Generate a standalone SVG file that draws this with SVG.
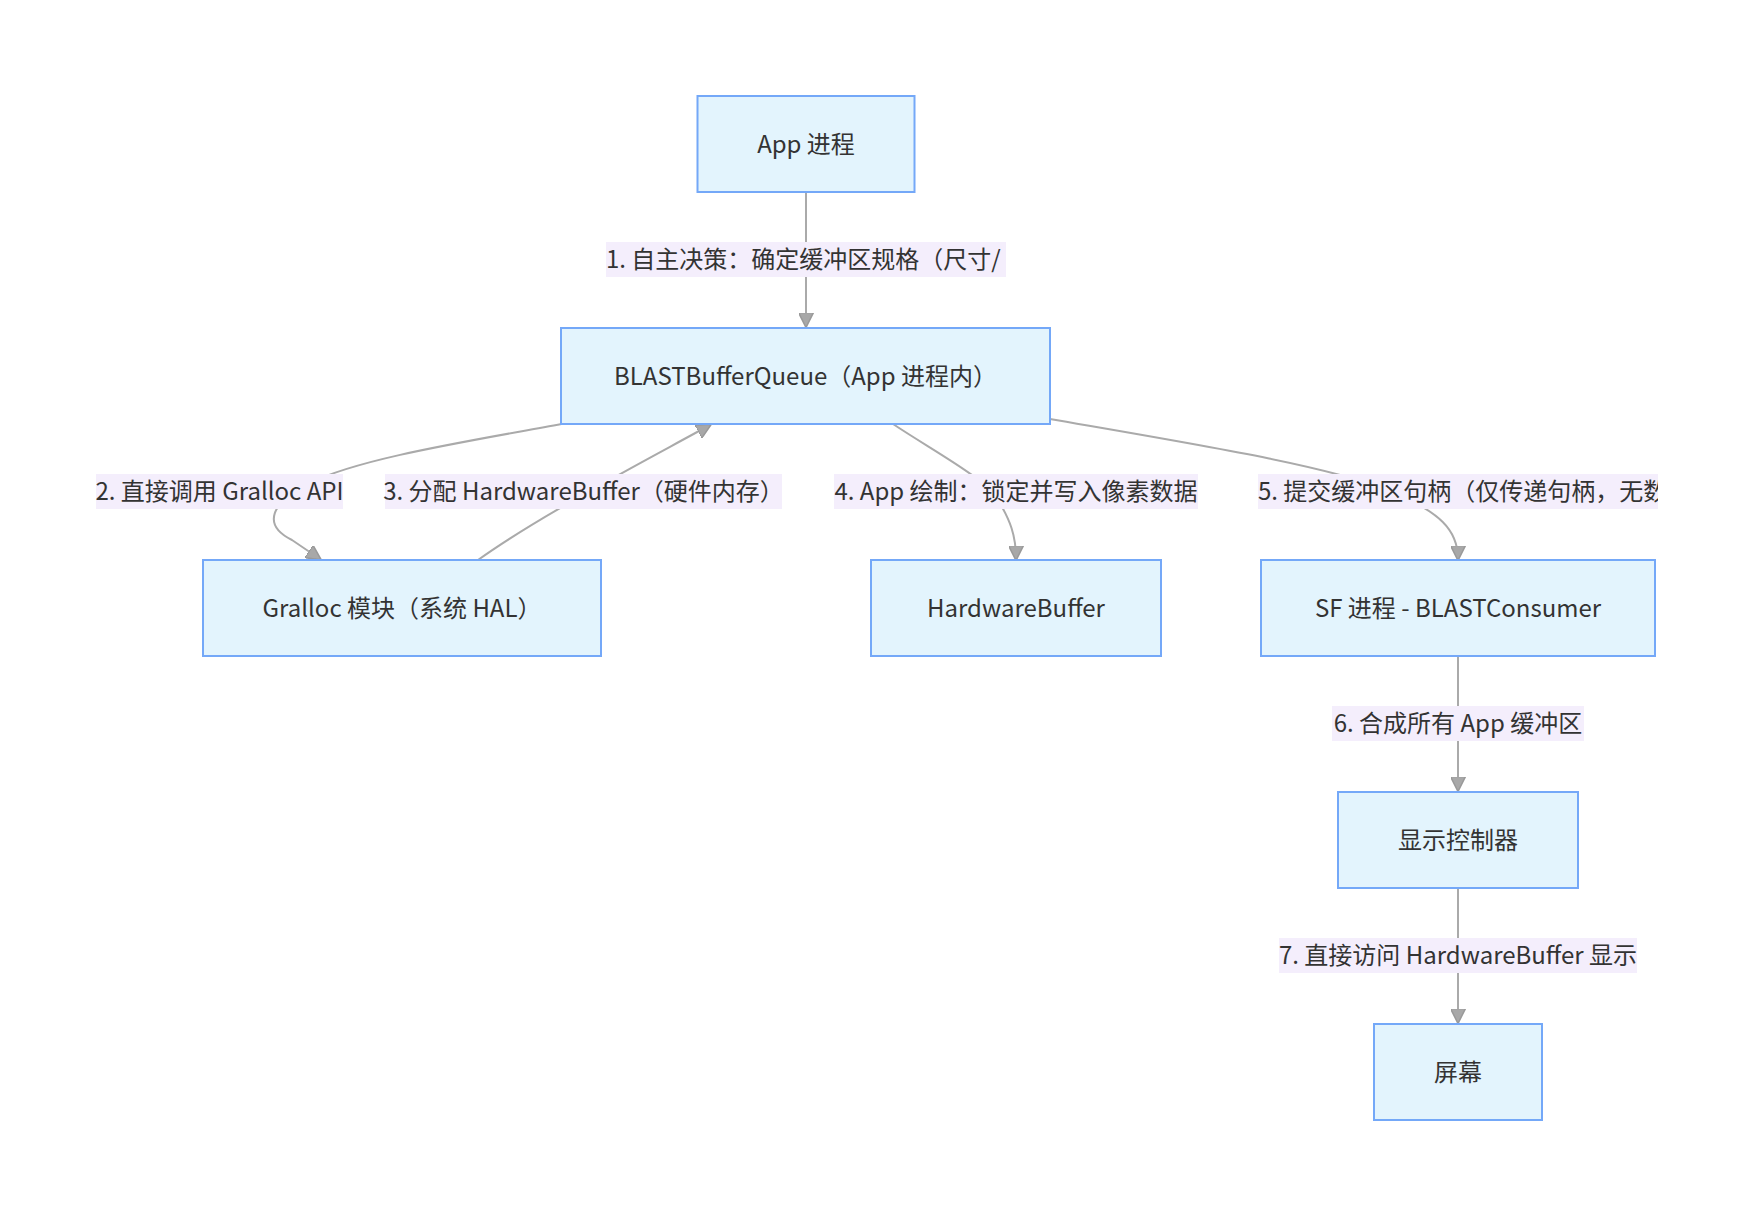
<svg xmlns="http://www.w3.org/2000/svg" width="1754" height="1215" viewBox="0 0 1754 1215">
<style>
  .node rect { fill: #e3f4fd; stroke: #74a8f8; stroke-width: 2; }
  .node text { font-family: "Noto Sans CJK SC", "Liberation Sans", sans-serif; font-size: 24px; fill: #333333; text-anchor: middle; dominant-baseline: central; }
  .edge { fill: none; stroke: #aaaaaa; stroke-width: 2; }
  .lbl rect { fill: #f4eefc; }
  .lbl text { font-family: "Noto Sans CJK SC", "Liberation Sans", sans-serif; font-size: 24px; fill: #333333; dominant-baseline: central; }
</style>
<defs>
  <marker id="arr" viewBox="0 0 10 10" refX="9" refY="5" markerUnits="userSpaceOnUse" markerWidth="15" markerHeight="15" orient="auto">
    <path d="M0,0 L10,5 L0,10 z" fill="#a8a8a8" stroke="#999999" stroke-width="1"/>
  </marker>
  <clipPath id="c1"><rect x="606" y="242" width="400" height="35"/></clipPath>
  <clipPath id="c5"><rect x="1258" y="474" width="400" height="35"/></clipPath>
</defs>
<rect width="1754" height="1215" fill="#ffffff"/>

<g id="connectors">
  <path class="edge" d="M806,192 L806,326" marker-end="url(#arr)"/>
  <path class="edge" d="M561.5,424 C470,441 360,458 310,483 C270,503 262,525 292,540 L320,559" marker-end="url(#arr)"/>
  <path class="edge" d="M478,560 C520,530 560,508 590,491 C630,468 670,447 710,425" marker-end="url(#arr)"/>
  <path class="edge" d="M893,424 C935,452 985,478 998,500 C1010,520 1016,535 1016,559" marker-end="url(#arr)"/>
  <path class="edge" d="M1050,419 C1200,445 1330,466 1390,491 C1440,512 1458,530 1458,559" marker-end="url(#arr)"/>
  <path class="edge" d="M1458,656 L1458,790" marker-end="url(#arr)"/>
  <path class="edge" d="M1458,888 L1458,1022" marker-end="url(#arr)"/>
</g>

<g id="edge-labels">
  <g class="lbl" id="label1">
    <rect x="606" y="242" width="400" height="35"/>
    <text x="606" y="257.5" clip-path="url(#c1)">1. 自主决策：确定缓冲区规格（尺寸/</text>
  </g>
  <g class="lbl" id="label2">
    <rect x="96" y="474" width="247" height="35"/>
    <text x="219.5" y="489.5" text-anchor="middle">2. 直接调用 Gralloc API</text>
  </g>
  <g class="lbl" id="label3">
    <rect x="385" y="474" width="397" height="35"/>
    <text x="583.5" y="489.5" text-anchor="middle">3. 分配 HardwareBuffer（硬件内存）</text>
  </g>
  <g class="lbl" id="label4">
    <rect x="834" y="474" width="364" height="35"/>
    <text x="1016" y="489.5" text-anchor="middle">4. App 绘制：锁定并写入像素数据</text>
  </g>
  <g class="lbl" id="label5">
    <rect x="1258" y="474" width="400" height="35"/>
    <text x="1258" y="489.5" clip-path="url(#c5)">5. 提交缓冲区句柄（仅传递句柄，无数</text>
  </g>
  <g class="lbl" id="label6">
    <rect x="1332" y="706" width="252" height="35"/>
    <text x="1458" y="721.5" text-anchor="middle">6. 合成所有 App 缓冲区</text>
  </g>
  <g class="lbl" id="label7">
    <rect x="1279" y="938" width="358" height="35"/>
    <text x="1458" y="953.5" text-anchor="middle">7. 直接访问 HardwareBuffer 显示</text>
  </g>
</g>

<g class="node" id="app">
  <rect x="697.5" y="96" width="217" height="96"/>
  <text x="806" y="142">App 进程</text>
</g>
<g class="node" id="blast">
  <rect x="561" y="328" width="489" height="96"/>
  <text x="805.5" y="374">BLASTBufferQueue（App 进程内）</text>
</g>
<g class="node" id="gralloc">
  <rect x="203" y="560" width="398" height="96"/>
  <text x="402" y="606">Gralloc 模块（系统 HAL）</text>
</g>
<g class="node" id="hwb">
  <rect x="871" y="560" width="290" height="96"/>
  <text x="1016" y="606">HardwareBuffer</text>
</g>
<g class="node" id="sf">
  <rect x="1261" y="560" width="394" height="96"/>
  <text x="1458" y="606">SF 进程 - BLASTConsumer</text>
</g>
<g class="node" id="display">
  <rect x="1338" y="792" width="240" height="96"/>
  <text x="1458" y="838">显示控制器</text>
</g>
<g class="node" id="screen">
  <rect x="1374" y="1024" width="168" height="96"/>
  <text x="1458" y="1070">屏幕</text>
</g>
</svg>
